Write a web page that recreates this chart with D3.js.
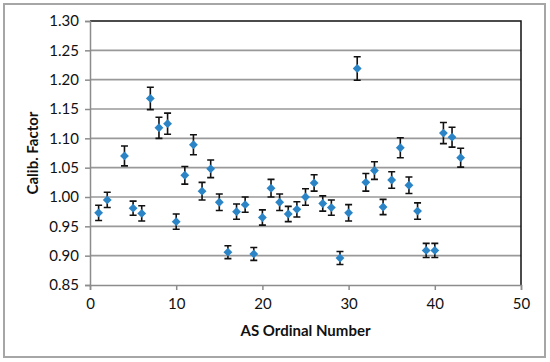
<!DOCTYPE html>
<html>
<head>
<meta charset="utf-8">
<script src="https://cdn.jsdelivr.net/npm/d3@7"></script>
<style>
  body { margin: 0; background: #fff; }
  #chart { width: 550px; height: 362px; }
</style>
</head>
<body>
<div id="chart"></div>
<script>
(function () {

// AS ordinal numbers (no 3 in the picture)
const asNumber = [1, 2, 4, 5, 6, 7, 8, 9, 10, 11, 12, 13, 14, 15, 16, 17, 18, 19, 20, 21,
  22, 23, 24, 25, 26, 27, 28, 29, 30, 31, 32, 33, 34, 35, 36, 37, 38, 39, 40, 41, 42, 43];

// calibration factor
const calibFactor = [0.973, 0.995, 1.070, 0.981, 0.972, 1.168, 1.118, 1.125, 0.958, 1.037,
  1.089, 1.010, 1.048, 0.991, 0.906, 0.975, 0.987, 0.903, 0.965, 1.015,
  0.991, 0.971, 0.979, 1.000, 1.024, 0.989, 0.982, 0.896, 0.973, 1.219,
  1.025, 1.045, 0.983, 1.029, 1.084, 1.020, 0.976, 0.909, 0.909, 1.109,
  1.102, 1.067];

// +/- error bar
const calibError = [0.013, 0.013, 0.017, 0.012, 0.013, 0.019, 0.018, 0.018, 0.013, 0.015,
  0.017, 0.015, 0.015, 0.014, 0.011, 0.013, 0.013, 0.011, 0.013, 0.015,
  0.014, 0.013, 0.013, 0.014, 0.014, 0.013, 0.013, 0.011, 0.014, 0.020,
  0.015, 0.015, 0.013, 0.014, 0.017, 0.014, 0.014, 0.012, 0.012, 0.018,
  0.017, 0.016];

const xTicks = [0, 10, 20, 30, 40, 50];
const yTicks = [0.85, 0.90, 0.95, 1.00, 1.05, 1.10, 1.15, 1.20, 1.25, 1.30];

const data = asNumber.map((n, i) => ({x: n, y: calibFactor[i], e: calibError[i]}));

const W = 550, H = 362;
const margin = {top: 21, right: 29, bottom: 77, left: 90};
const width = W - margin.left - margin.right,
   height = H - margin.top - margin.bottom;

const root = d3.select("#chart").append("svg")
    .attr("width", W)
    .attr("height", H);

// outer chart frame
root.append("rect")
    .attr("x", 4).attr("y", 4)
    .attr("width", 541).attr("height", 353)
    .attr("fill", "none")
    .attr("stroke", "#a6a6a6")
    .attr("stroke-width", 2);

const svg = root.append("g")
    .attr("transform", "translate(" + margin.left + "," + margin.top + ")");

const x = d3.scaleLinear().domain([0, 50]).range([0, width]);
const y = d3.scaleLinear().domain([0.85, 1.30]).range([height, 0]);

const font = "Lato, 'Open Sans', sans-serif";

// gridlines
svg.append("g")
  .selectAll("line")
  .data(yTicks.slice(1, -1))
  .join("line")
    .attr("x1", 0).attr("x2", width)
    .attr("y1", d => y(d)).attr("y2", d => y(d))
    .attr("stroke", "#999")
    .attr("stroke-width", 1.6);

// top and right black frame
svg.append("path")
    .attr("d", "M0," + y(1.30) + "H" + x(50) + "V" + y(0.85))
    .attr("fill", "none")
    .attr("stroke", "#111")
    .attr("stroke-width", 1.5);

// y axis
const yAxis = svg.append("g")
    .call(d3.axisLeft(y).tickValues(yTicks).tickFormat(d3.format(".2f")).tickSize(5).tickPadding(6));
yAxis.select(".domain").attr("stroke", "#8c8c8c").attr("stroke-width", 1.5);
yAxis.selectAll(".tick line").attr("stroke", "#8c8c8c").attr("stroke-width", 1.5);
yAxis.selectAll("text").attr("font-family", font).attr("font-size", 15).attr("fill", "#111");

// x axis
const xAxis = svg.append("g")
    .attr("transform", "translate(0," + height + ")")
    .call(d3.axisBottom(x).tickValues(xTicks).tickFormat(d3.format("d")).tickSize(5).tickPadding(8));
xAxis.select(".domain").attr("stroke", "#8c8c8c").attr("stroke-width", 1.5);
xAxis.selectAll(".tick line").attr("stroke", "#8c8c8c").attr("stroke-width", 1.5);
xAxis.selectAll("text").attr("font-family", font).attr("font-size", 15).attr("fill", "#111");

// axis titles
svg.append("text")
    .attr("x", width / 2)
    .attr("y", height + 51)
    .attr("text-anchor", "middle")
    .attr("font-family", font)
    .attr("font-weight", "bold")
    .attr("font-size", 15)
    .attr("fill", "#111")
    .text("AS Ordinal Number");

svg.append("text")
    .attr("transform", "translate(" + (-52) + "," + (height / 2) + ") rotate(-90)")
    .attr("text-anchor", "middle")
    .attr("font-family", font)
    .attr("font-weight", "bold")
    .attr("font-size", 15)
    .attr("fill", "#111")
    .text("Calib. Factor");

// error bars
const bars = svg.append("g")
    .attr("stroke", "#111")
    .attr("stroke-width", 1.6)
    .attr("fill", "none");

bars.selectAll("path")
  .data(data)
  .join("path")
    .attr("d", d => {
      const cx = x(d.x), t = y(d.y + d.e), b = y(d.y - d.e), c = 3.5;
      return "M" + cx + "," + t + "V" + b +
        "M" + (cx - c) + "," + t + "H" + (cx + c) +
        "M" + (cx - c) + "," + b + "H" + (cx + c);
    });

// diamond markers
const diamond = d3.symbol().type(d3.symbolDiamond2).size(50);
svg.append("g")
  .selectAll("path")
  .data(data)
  .join("path")
    .attr("transform", d => "translate(" + x(d.x) + "," + y(d.y) + ")")
    .attr("d", diamond)
    .attr("fill", "#2a84c6");

})()
</script>
</body>
</html>
